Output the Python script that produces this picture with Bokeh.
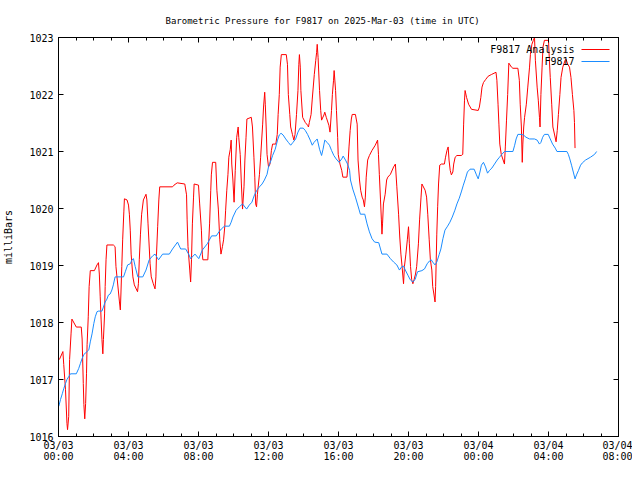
from bokeh.plotting import figure
from bokeh.models import Range1d, FixedTicker, LinearAxis, Label, BoxAnnotation, ColumnDataSource
from bokeh.embed import file_html
from bokeh.resources import INLINE

# ---- data: minutes after 2025-03-03 00:00 UTC, pressure in millibars ----
analysis_min = [3, 15, 18, 24, 29, 31, 35, 38, 43, 46, 61, 78, 81, 85, 87, 90, 93, 96, 98, 102,
    105, 109, 123, 132, 137, 140, 143, 146, 149, 152, 154, 158, 160, 163, 166, 188, 194, 197, 205, 209,
    212, 214, 217, 220, 224, 226, 235, 240, 243, 246, 249, 255, 260, 271, 274, 277, 281, 285, 291, 300,
    303, 307, 314, 318, 325, 331, 334, 336, 340, 344, 347, 391, 396, 407, 433, 439, 441, 444, 450, 453,
    456, 459, 463, 465, 480, 484, 490, 493, 495, 512, 518, 522, 524, 528, 539, 543, 548, 553, 557, 562,
    566, 570, 573, 577, 581, 584, 589, 592, 594, 598, 600, 602, 606, 611, 616, 618, 623, 627, 631, 636,
    639, 643, 646, 661, 665, 670, 673, 676, 679, 682, 689, 693, 700, 703, 707, 709, 712, 715, 720, 725,
    730, 734, 745, 750, 753, 757, 760, 764, 781, 785, 788, 793, 796, 802, 807, 811, 816, 821, 824, 826,
    829, 831, 837, 846, 854, 857, 860, 866, 870, 877, 882, 885, 887, 890, 895, 899, 902, 910, 913, 918,
    927, 931, 936, 939, 943, 945, 950, 953, 957, 959, 965, 971, 975, 989, 992, 996, 1000, 1004, 1007, 1018,
    1024, 1027, 1032, 1036, 1041, 1045, 1049, 1052, 1055, 1060, 1066, 1075, 1086, 1094, 1097, 1100, 1104, 1107, 1109, 1111,
    1114, 1120, 1125, 1129, 1138, 1149, 1155, 1160, 1166, 1170, 1174, 1178, 1183, 1186, 1191, 1196, 1200, 1203, 1207, 1211,
    1215, 1219, 1224, 1228, 1234, 1238, 1243, 1246, 1257, 1262, 1266, 1271, 1275, 1280, 1283, 1287, 1291, 1293, 1297, 1300,
    1303, 1307, 1313, 1323, 1327, 1332, 1336, 1339, 1343, 1347, 1352, 1355, 1360, 1366, 1381, 1386, 1389, 1392, 1394, 1399,
    1406, 1416, 1439, 1443, 1448, 1452, 1457, 1464, 1473, 1484, 1500, 1503, 1507, 1510, 1513, 1518, 1529, 1532, 1536, 1540,
    1544, 1553, 1558, 1575, 1580, 1583, 1587, 1590, 1592, 1595, 1598, 1604, 1609, 1615, 1618, 1623, 1628, 1632, 1635, 1641,
    1645, 1649, 1651, 1654, 1658, 1661, 1666, 1680, 1683, 1686, 1691, 1695, 1701, 1706, 1710, 1714, 1719, 1723, 1729, 1737,
    1740, 1746, 1752, 1757, 1762, 1767, 1769, 1771]
analysis_mb = [1017.35, 1017.49, 1017.26, 1016.82, 1016.23, 1016.12, 1016.35, 1017.35, 1017.80, 1018.06,
    1017.92, 1017.92, 1017.71, 1016.93, 1016.56, 1016.31, 1016.58, 1017.10, 1017.61, 1018.10,
    1018.63, 1018.91, 1018.91, 1019.01, 1019.05, 1018.85, 1018.45, 1018.06, 1017.70, 1017.45,
    1017.70, 1018.15, 1018.63, 1019.10, 1019.36, 1019.36, 1019.33, 1018.98, 1018.57, 1018.36,
    1018.22, 1018.50, 1018.98, 1019.45, 1019.94, 1020.17, 1020.15, 1020.06, 1019.90, 1019.62,
    1019.20, 1018.80, 1018.66, 1018.54, 1018.68, 1019.10, 1019.55, 1019.90, 1020.15, 1020.25,
    1020.15, 1019.73, 1019.03, 1018.80, 1018.68, 1018.59, 1018.80, 1019.20, 1019.68, 1020.15,
    1020.38, 1020.38, 1020.41, 1020.45, 1020.43, 1020.24, 1019.80, 1019.33, 1018.92, 1018.71,
    1019.10, 1019.73, 1020.20, 1020.43, 1020.41, 1020.08, 1019.62, 1019.20, 1019.10, 1019.10,
    1019.73, 1020.32, 1020.59, 1020.81, 1020.81, 1020.32, 1019.99, 1019.45, 1019.20, 1019.33,
    1019.45, 1019.68, 1019.97, 1020.32, 1020.60, 1020.90, 1021.04, 1021.20, 1020.78, 1020.50,
    1020.29, 1020.11, 1020.67, 1021.25, 1021.43, 1021.25, 1020.95, 1020.43, 1019.99, 1020.38,
    1020.85, 1021.25, 1021.57, 1021.60, 1021.43, 1020.90, 1020.55, 1020.08, 1020.03, 1020.25,
    1020.60, 1020.90, 1021.48, 1021.78, 1022.04, 1021.83, 1021.43, 1020.95, 1020.73, 1020.78,
    1021.02, 1021.13, 1021.13, 1021.30, 1021.65, 1022.00, 1022.48, 1022.70, 1022.70, 1022.53,
    1022.00, 1021.65, 1021.43, 1021.30, 1021.20, 1021.30, 1021.65, 1022.07, 1022.53, 1022.70,
    1022.48, 1022.07, 1021.60, 1021.51, 1021.46, 1021.43, 1021.51, 1021.65, 1021.92, 1022.35,
    1022.60, 1022.74, 1022.88, 1022.65, 1022.07, 1021.72, 1021.55, 1021.64, 1021.69, 1021.60,
    1021.46, 1021.34, 1021.72, 1022.00, 1022.25, 1022.42, 1022.07, 1021.72, 1021.25, 1020.95,
    1020.78, 1020.67, 1020.55, 1020.55, 1020.73, 1021.08, 1021.37, 1021.57, 1021.65, 1021.65,
    1021.48, 1020.85, 1020.50, 1020.32, 1020.20, 1020.15, 1020.03, 1020.20, 1020.55, 1020.85,
    1020.93, 1021.02, 1021.11, 1021.20, 1020.95, 1020.60, 1020.15, 1019.80, 1019.55, 1019.73,
    1020.08, 1020.25, 1020.50, 1020.55, 1020.60, 1020.73, 1020.78, 1020.38, 1019.90, 1019.50,
    1019.20, 1018.98, 1018.68, 1018.98, 1019.20, 1019.45, 1019.68, 1019.38, 1018.98, 1018.75,
    1018.68, 1018.75, 1018.85, 1018.98, 1019.38, 1019.80, 1020.20, 1020.43, 1020.32, 1020.20,
    1019.90, 1019.45, 1019.10, 1018.92, 1018.63, 1018.50, 1018.36, 1018.63, 1019.55, 1020.03,
    1020.43, 1020.76, 1020.78, 1020.78, 1020.90, 1021.02, 1021.08, 1020.85, 1020.67, 1020.59,
    1020.64, 1020.78, 1020.90, 1020.93, 1020.93, 1020.95, 1021.48, 1021.90, 1022.07, 1021.95,
    1021.83, 1021.74, 1021.72, 1021.78, 1021.95, 1022.13, 1022.21, 1022.26, 1022.32, 1022.35,
    1022.39, 1022.25, 1021.83, 1021.48, 1021.13, 1020.95, 1020.78, 1021.08, 1021.55, 1022.00,
    1022.55, 1022.48, 1022.46, 1022.46, 1022.25, 1021.83, 1021.43, 1020.81, 1021.13, 1021.43,
    1021.60, 1021.83, 1022.13, 1022.48, 1022.70, 1022.88, 1022.95, 1023.00, 1022.60, 1022.13,
    1021.90, 1021.60, 1021.43, 1022.00, 1022.48, 1022.83, 1022.95, 1022.95, 1022.60, 1022.30,
    1021.83, 1021.43, 1021.29, 1021.17, 1021.37, 1021.65, 1022.00, 1022.30, 1022.48, 1022.60,
    1022.62, 1022.53, 1022.48, 1022.30, 1022.00, 1021.72, 1021.51, 1021.06]

station_min = [1, 7, 13, 18, 24, 29, 35, 41, 61, 69, 75, 81, 87, 98, 104, 109, 115, 121, 126, 132,
    137, 149, 154, 160, 166, 171, 177, 183, 188, 194, 223, 229, 237, 246, 252, 257, 263, 272, 289, 300,
    311, 323, 331, 343, 357, 380, 391, 408, 419, 436, 446, 453, 468, 481, 493, 510, 525, 541, 550, 558,
    569, 586, 592, 598, 609, 620, 631, 645, 654, 663, 672, 680, 689, 698, 706, 715, 720, 729, 734, 743,
    751, 757, 763, 770, 779, 788, 796, 804, 813, 821, 828, 839, 846, 854, 863, 870, 876, 887, 895, 902,
    907, 913, 921, 929, 936, 944, 952, 962, 971, 976, 984, 991, 998, 1001, 1009, 1018, 1030, 1035, 1050, 1058,
    1066, 1075, 1084, 1098, 1104, 1109, 1126, 1138, 1149, 1160, 1169, 1177, 1183, 1189, 1198, 1206, 1215, 1223, 1231, 1246,
    1255, 1264, 1272, 1278, 1283, 1291, 1297, 1305, 1311, 1318, 1325, 1334, 1342, 1350, 1359, 1366, 1374, 1381, 1388, 1395,
    1402, 1411, 1425, 1433, 1439, 1445, 1450, 1457, 1464, 1471, 1478, 1486, 1495, 1504, 1512, 1520, 1529, 1558, 1564, 1569,
    1575, 1586, 1594, 1603, 1615, 1632, 1641, 1649, 1654, 1660, 1666, 1679, 1686, 1694, 1703, 1709, 1743, 1748, 1753, 1759,
    1765, 1771, 1776, 1783, 1790, 1796, 1807, 1824, 1838, 1845]
station_mb = [1016.53, 1016.65, 1016.75, 1016.84, 1016.93, 1017.00, 1017.05, 1017.10, 1017.10, 1017.19,
    1017.28, 1017.37, 1017.44, 1017.49, 1017.52, 1017.66, 1017.80, 1017.98, 1018.10, 1018.19,
    1018.20, 1018.20, 1018.27, 1018.36, 1018.41, 1018.48, 1018.50, 1018.57, 1018.66, 1018.80,
    1018.80, 1018.89, 1019.01, 1019.03, 1019.10, 1019.12, 1018.98, 1018.80, 1018.80, 1018.92,
    1019.10, 1019.17, 1019.20, 1019.10, 1019.20, 1019.20, 1019.29, 1019.41, 1019.29, 1019.29,
    1019.20, 1019.12, 1019.20, 1019.12, 1019.27, 1019.38, 1019.52, 1019.52, 1019.59, 1019.64,
    1019.69, 1019.69, 1019.76, 1019.85, 1019.97, 1020.03, 1020.08, 1019.99, 1020.06, 1020.11,
    1020.24, 1020.32, 1020.38, 1020.43, 1020.50, 1020.60, 1020.73, 1020.85, 1020.93, 1021.04,
    1021.20, 1021.29, 1021.32, 1021.29, 1021.22, 1021.16, 1021.11, 1021.16, 1021.22, 1021.34,
    1021.41, 1021.41, 1021.37, 1021.30, 1021.20, 1021.11, 1021.16, 1021.22, 1021.04, 1020.93,
    1021.04, 1021.20, 1021.16, 1021.11, 1021.02, 1020.93, 1020.87, 1020.81, 1020.87, 1020.92,
    1020.85, 1020.78, 1020.67, 1020.50, 1020.34, 1020.20, 1019.99, 1019.90, 1019.90, 1019.73,
    1019.59, 1019.47, 1019.41, 1019.40, 1019.29, 1019.20, 1019.20, 1019.12, 1019.06, 1019.01,
    1018.92, 1018.98, 1018.99, 1018.92, 1018.83, 1018.75, 1018.71, 1018.76, 1018.89, 1018.91,
    1018.94, 1019.03, 1019.08, 1019.10, 1019.06, 1019.01, 1019.06, 1019.19, 1019.29, 1019.47,
    1019.62, 1019.69, 1019.76, 1019.85, 1019.97, 1020.08, 1020.18, 1020.29, 1020.41, 1020.52,
    1020.64, 1020.69, 1020.69, 1020.59, 1020.52, 1020.64, 1020.76, 1020.81, 1020.73, 1020.62,
    1020.67, 1020.71, 1020.78, 1020.85, 1020.90, 1020.95, 1021.00, 1021.00, 1021.11, 1021.22,
    1021.30, 1021.30, 1021.29, 1021.25, 1021.22, 1021.22, 1021.20, 1021.13, 1021.16, 1021.25,
    1021.30, 1021.30, 1021.22, 1021.13, 1021.06, 1021.00, 1021.00, 1020.95, 1020.87, 1020.76,
    1020.64, 1020.52, 1020.59, 1020.67, 1020.76, 1020.80, 1020.85, 1020.90, 1020.95, 1021.00]

tick_hours = [0, 4, 8, 12, 16, 20, 24, 28, 32]
tick_labels = ["03/03\n00:00", "03/03\n04:00", "03/03\n08:00", "03/03\n12:00", "03/03\n16:00",
               "03/03\n20:00", "03/04\n00:00", "03/04\n04:00", "03/04\n08:00"]
minor_hours = list(range(0, 33))
y_ticks = [1016, 1017, 1018, 1019, 1020, 1021, 1022, 1023]

title_text = "Barometric Pressure for F9817 on 2025-Mar-03 (time in UTC)"
series_names = ["F9817 Analysis", "F9817"]
series_colors = ["#ff0000", "#1a8cff"]

FONT = "DejaVu Sans Mono"

src_a = ColumnDataSource(dict(h=[m / 60 for m in analysis_min], p=analysis_mb))
src_s = ColumnDataSource(dict(h=[m / 60 for m in station_min], p=station_mb))

p = figure(width=632, height=464, output_backend="svg", toolbar_location=None,
           x_range=Range1d(0, 32), y_range=Range1d(1016, 1023),
           min_border_left=58, min_border_right=14, min_border_top=37, min_border_bottom=27)
p.background_fill_color = "white"
p.border_fill_color = "white"
p.outline_line_color = "black"
p.outline_line_width = 1
p.xgrid.visible = False
p.ygrid.visible = False

p.line("h", "p", source=src_a, color=series_colors[0], line_width=1)
p.line("h", "p", source=src_s, color=series_colors[1], line_width=1)

xt = FixedTicker(ticks=tick_hours, minor_ticks=minor_hours)
yt = FixedTicker(ticks=y_ticks, minor_ticks=[])

def style_axis(ax, show_labels):
    ax.axis_line_color = "black"
    ax.major_tick_line_color = "black"
    ax.minor_tick_line_color = "black"
    ax.major_tick_in = 5
    ax.major_tick_out = 0
    ax.minor_tick_in = 3
    ax.minor_tick_out = 0
    ax.major_label_text_font = FONT
    if show_labels:
        ax.major_label_text_color = "black"
        ax.major_label_text_font_size = "10px"
    else:
        # mirrored tick marks only, no labels drawn
        ax.major_label_text_color = None
        ax.major_label_text_alpha = 0
        ax.major_label_text_font_size = "1px"
        ax.major_label_standoff = 0

xa = p.xaxis[0]
xa.ticker = xt
xa.major_label_overrides = {h: lab for h, lab in zip(tick_hours, tick_labels)}
style_axis(xa, True)
xa.major_label_standoff = 3
xa.major_label_text_line_height = 1.0

ya = p.yaxis[0]
ya.ticker = yt
style_axis(ya, True)
ya.major_label_standoff = 5
ya.axis_label = "milliBars"
ya.axis_label_text_font = FONT
ya.axis_label_text_font_size = "10px"
ya.axis_label_text_font_style = "normal"
ya.axis_label_text_color = "black"
ya.axis_label_standoff = 12

top = LinearAxis(ticker=xt)
style_axis(top, False)
p.add_layout(top, "above")
right = LinearAxis(ticker=yt)
style_axis(right, False)
p.add_layout(right, "right")

p.title.text = title_text
p.title.text_font = FONT
p.title.text_font_size = "9px"
p.title.text_font_style = "normal"
p.title.text_color = "black"
p.title.align = "left"
p.title.offset = 107
p.title.standoff = 24

# gnuplot-style key: label on the left, line sample on the right
for i, (name, col) in enumerate(zip(series_names, series_colors)):
    ycen = 387 - 12 * i
    p.add_layout(Label(x=516, y=ycen, x_units="screen", y_units="screen", text=name,
                       text_font=FONT, text_font_size="10px", text_align="right",
                       text_baseline="middle", text_color="black"))
    p.add_layout(BoxAnnotation(left=523, right=551, bottom=ycen - 0.5, top=ycen + 0.5,
                               left_units="screen", right_units="screen",
                               bottom_units="screen", top_units="screen",
                               fill_color=col, fill_alpha=1, line_color=None))

open("out.html", "w").write(file_html(p, INLINE))
